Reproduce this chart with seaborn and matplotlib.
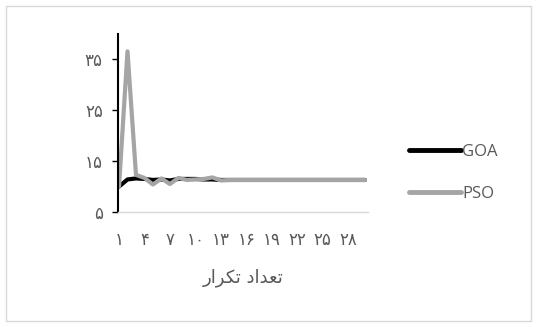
import numpy as np
import pandas as pd
import matplotlib.pyplot as plt
from matplotlib.patches import Rectangle
import seaborn as sns

# iterations and convergence values
iterations = list(range(1, 31))
goa = [10.0, 11.4, 11.6, 11.5, 11.3, 11.4, 11.2, 11.5, 11.5, 11.5, 11.4, 11.4, 11.3,
       11.3, 11.3, 11.3, 11.3, 11.3, 11.3, 11.3, 11.3, 11.3, 11.3, 11.3, 11.3,
       11.3, 11.3, 11.3, 11.3, 11.3]
pso = [10.0, 36.6, 12.3, 11.7, 10.4, 11.6, 10.5, 11.7, 11.3, 11.4, 11.5, 11.8, 11.2,
       11.3, 11.3, 11.3, 11.3, 11.3, 11.3, 11.3, 11.3, 11.3, 11.3, 11.3, 11.3,
       11.3, 11.3, 11.3, 11.3, 11.3]
y_ticks = [5, 15, 25, 35]
x_ticks = list(range(1, 30, 3))
# "تعداد تکرار" written in presentation forms, visual order
x_title = "\uFEAD\uFE8D\uFEAE\uFB91\uFE97 \uFEA9\uFE8D\uFEAA\uFECC\uFE97"

fa_digits = str.maketrans("0123456789", "۰۱۲۳۴۵۶۷۸۹")


def fa(n):
    return str(n).translate(fa_digits)


df = pd.DataFrame({
    "iter": iterations * 2,
    "value": goa + pso,
    "algo": ["GOA"] * len(goa) + ["PSO"] * len(pso),
})

sns.set_style("white")
plt.rcParams['font.family'] = ['DejaVu Sans']

fig = plt.figure(figsize=(5.37, 3.27), dpi=100)
fig.patches.append(Rectangle((6 / 537, 6 / 327), 525 / 537, 315 / 327,
                             transform=fig.transFigure, fill=False,
                             edgecolor="#d9d9d9", linewidth=1))
ax = fig.add_axes([118 / 537, 1 - 212 / 327, 250 / 537, 178 / 327])

sns.lineplot(data=df, x="iter", y="value", hue="algo",
             palette={"GOA": "black", "PSO": "#a5a5a5"},
             linewidth=3, ax=ax, legend=False)

ax.set_xlim(0.88, 30.35)
ax.set_ylim(5, 40)
ax.set_yticks(y_ticks)
ax.set_yticklabels([fa(v) for v in y_ticks], color="#595959", fontsize=12)
ax.set_xticks(x_ticks)
ax.set_xticklabels([fa(v) for v in x_ticks], color="#595959", fontsize=12)
ax.tick_params(axis="y", length=4, width=1, color="black", pad=7, left=True)
ax.tick_params(axis="x", length=0, pad=14)
ax.set_xlabel(x_title, color="#595959", fontsize=13, labelpad=14)
ax.set_ylabel("")

for s in ["top", "right"]:
    ax.spines[s].set_visible(False)
ax.spines["left"].set_color("black")
ax.spines["left"].set_linewidth(1.5)
ax.spines["bottom"].set_color("#d9d9d9")
ax.spines["bottom"].set_linewidth(1)

handles = [plt.Line2D([], [], color="black", linewidth=3.5),
           plt.Line2D([], [], color="#a5a5a5", linewidth=3.5)]
fig.legend(handles, ["GOA", "PSO"], loc="center left",
           bbox_to_anchor=(394 / 537, 1 - 173 / 327), frameon=False,
           prop={"family": "Open Sans", "size": 12}, labelcolor="#595959",
           handlelength=3.1, handletextpad=0.1, labelspacing=1.6)

fig.savefig("out.png", dpi=100)
